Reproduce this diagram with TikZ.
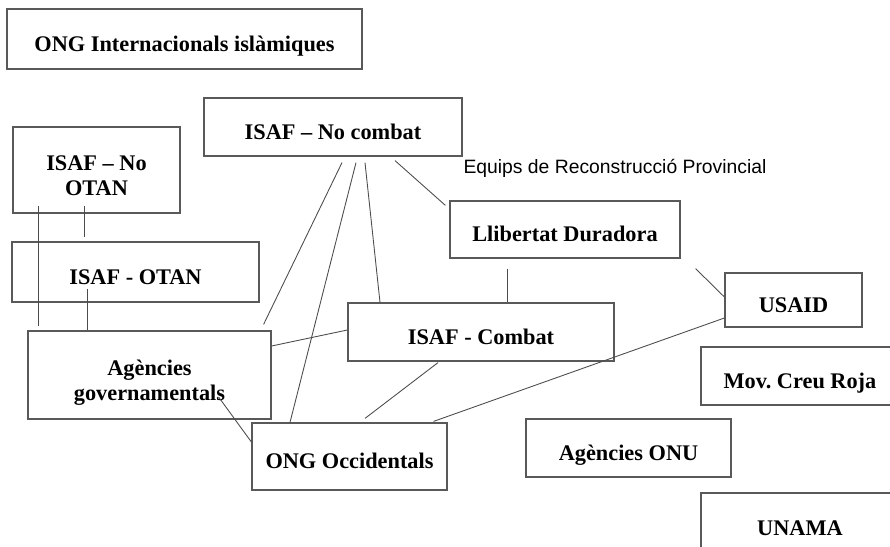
\documentclass[tikz,border=0pt]{standalone}
\usepackage{fontspec}
\setmainfont{Liberation Serif}
\newfontfamily\arialfont{Liberation Sans}
\usepackage{tikz}
\usetikzlibrary{positioning}

\begin{document}
\begin{tikzpicture}[x=0.02cm,y=-0.02cm,
    actor/.style={draw=black!65,line width=0.7pt,align=center,inner sep=0pt,
      font=\fontsize{12.7}{14.2}\selectfont\bfseries,text height=14pt,text depth=0pt},
    link/.style={draw=black!70,line width=0.5pt}]

  \useasboundingbox (0,0) rectangle (890,547);

  \node (intl) [actor,minimum width=7.1cm,minimum height=1.2cm] at (184.5,39)
        {ONG Internacionals islàmiques};
  \node (nocombat) [actor,minimum width=5.16cm,minimum height=1.16cm] at (333,127)
        {ISAF -- No combat};
  \node (nootan) [actor,minimum width=3.34cm,minimum height=1.72cm,
                  text height=28.9pt] at (96.5,170)
        {ISAF -- No \\ OTAN};
  \node (otan) [actor,minimum width=4.94cm,minimum height=1.2cm] at (135.5,272)
        {ISAF - OTAN};
  \node (agov) [actor,minimum width=4.86cm,minimum height=1.76cm,
                text height=28.7pt] at (149.5,375)
        {Agències \\ governamentals};
  \node (occid) [actor,minimum width=3.9cm,minimum height=1.34cm] at (349.5,456.5)
        {ONG Occidentals};
  \node (combat) [actor,minimum width=5.32cm,minimum height=1.16cm] at (481,332)
        {ISAF - Combat};
  \node (llib) [actor,minimum width=4.6cm,minimum height=1.14cm] at (565,229.5)
        {Llibertat Duradora};
  \node (usaid) [actor,minimum width=2.74cm,minimum height=1.08cm] at (793.5,300)
        {USAID};
  \node (creu) [actor,minimum width=3.96cm,minimum height=1.16cm] at (800,376)
        {Mov.\ Creu Roja};
  \node (onu) [actor,minimum width=4.1cm,minimum height=1.16cm] at (628.5,448)
        {Agències ONU};
  \node (unama) [actor,minimum width=3.96cm,minimum height=1.2cm] at (800,523)
        {UNAMA};

  \node (prt) [font=\arialfont\fontsize{11}{13}\selectfont] at (615,168)
        {Equips de Reconstrucció Provincial};

  \draw [link] ([shift={(-12.5,-8)}]nootan.south) -- ([shift={(-51.5,-4)}]otan.north);
  \draw [link] ([shift={(-58.5,-8)}]nootan.south) -- ([shift={(-111.5,-4)}]agov.north);
  \draw [link] ([shift={(-48.5,-14)}]otan.south) -- ([shift={(-62.5,0)}]agov.north);

  \draw [link] ([shift={(9,6)}]nocombat.south) -- ([shift={(-8,-6)}]agov.north east);
  \draw [link] ([shift={(23,6)}]nocombat.south) -- ([shift={(-59.5,0)}]occid.north);
  \draw [link] ([shift={(32,6)}]nocombat.south) -- ([shift={(-101,0)}]combat.north);
  \draw [link] ([shift={(62,4)}]nocombat.south) -- ([shift={(-4,5)}]llib.north west);

  \draw [link] ([shift={(0,-29)}]agov.east) -- ([shift={(0,-2)}]combat.west);
  \draw [link] ([shift={(-53,22)}]agov.east) -- ([shift={(0,-14.5)}]occid.west);
  \draw [link] ([shift={(-43,1)}]combat.south) -- ([shift={(15.5,-4)}]occid.north);
  \draw [link] ([shift={(0,18)}]usaid.west) -- ([shift={(-14,-1)}]occid.north east);

  \draw [link] ([shift={(-58,10)}]llib.south) -- ([shift={(26,0)}]combat.north);
  \draw [link] ([shift={(15,10)}]llib.south east) -- ([shift={(0,-3)}]usaid.west);

\end{tikzpicture}
\end{document}
